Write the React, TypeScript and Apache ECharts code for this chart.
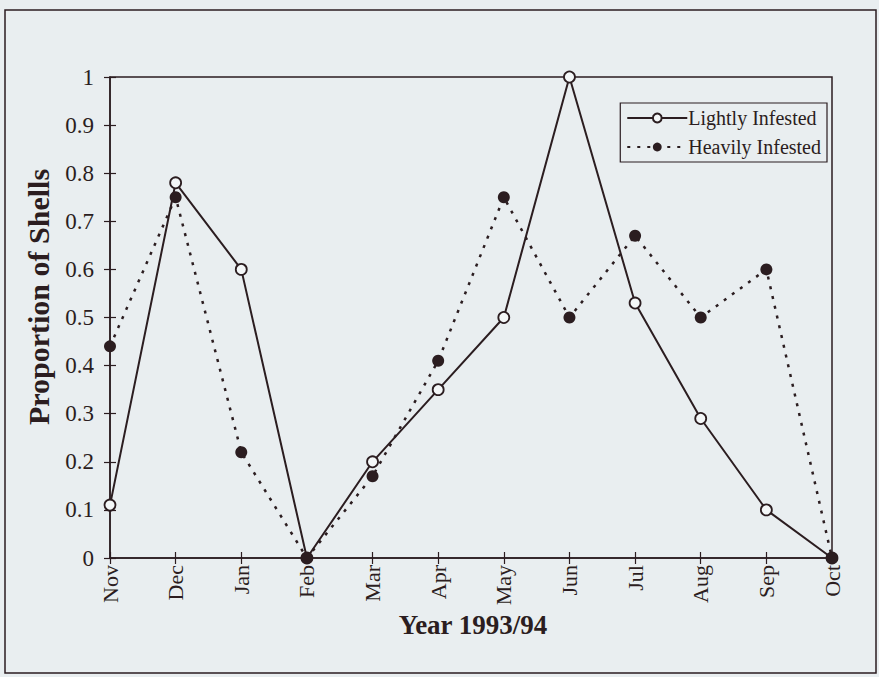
import React, { useEffect, useRef } from "react";
import * as echarts from "echarts";

const months = ["Nov", "Dec", "Jan", "Feb", "Mar", "Apr", "May", "Jun", "Jul", "Aug", "Sep", "Oct"];
const lightly = [0.11, 0.78, 0.6, 0, 0.2, 0.35, 0.5, 1.0, 0.53, 0.29, 0.1, 0];
const heavily = [0.44, 0.75, 0.22, 0, 0.17, 0.41, 0.75, 0.5, 0.67, 0.5, 0.6, 0];
const seriesNames = ["Lightly Infested", "Heavily Infested"];
const xTitle = "Year 1993/94";
const yTitle = "Proportion of Shells";

const INK = "#2b1d20";
const BG = "#e9eef0";
const FONT = "'Liberation Serif', 'DejaVu Serif', serif";

export default function App() {
  const ref = useRef<HTMLDivElement>(null);
  useEffect(() => {
    if (!ref.current) return;
    const chart = echarts.init(ref.current, undefined, { renderer: "svg" });
    const tickCommon = { lineStyle: { color: INK, width: 1.2 }, length: 6 };
    chart.setOption({
      animation: false,
      backgroundColor: BG,
      textStyle: { fontFamily: FONT, color: INK },
      grid: {
        left: 110,
        right: 47,
        top: 77,
        bottom: 119,
        show: true,
        borderColor: INK,
        borderWidth: 1.5,
        backgroundColor: "transparent",
      },
      graphic: [
        {
          type: "rect",
          shape: { x: 5, y: 10, width: 871, height: 663 },
          style: { fill: "none", stroke: INK, lineWidth: 1.5 },
          silent: true,
        },
        {
          type: "text",
          x: 38,
          y: 297,
          rotation: Math.PI / 2,
          silent: true,
          style: {
            text: yTitle,
            fontFamily: FONT,
            fontSize: 30,
            fontWeight: "bold",
            fill: INK,
            textAlign: "center",
            textVerticalAlign: "middle",
          },
        },
        {
          type: "text",
          x: 473,
          y: 625,
          silent: true,
          style: {
            text: xTitle,
            fontFamily: FONT,
            fontSize: 27,
            fontWeight: "bold",
            fill: INK,
            textAlign: "center",
            textVerticalAlign: "middle",
          },
        },
      ],
      legend: {
        orient: "vertical",
        right: 52,
        top: 103,
        itemWidth: 60,
        itemHeight: 11,
        itemGap: 9,
        padding: [5, 6, 5, 6],
        borderColor: INK,
        borderWidth: 1.2,
        backgroundColor: BG,
        textStyle: { fontFamily: FONT, fontSize: 20, color: INK, padding: [0, 0, 0, -4] },
        data: seriesNames,
      },
      xAxis: [
        {
          type: "category",
          data: months,
          boundaryGap: false,
          position: "bottom",
          axisLine: { lineStyle: { color: INK, width: 1.5 } },
          axisTick: { ...tickCommon, inside: false },
          axisLabel: { rotate: 90, fontFamily: FONT, fontSize: 22, color: INK, margin: 7 },
          splitLine: { show: false },
        },
        {
          type: "category",
          data: months,
          boundaryGap: false,
          position: "bottom",
          axisLine: { show: false },
          axisTick: { ...tickCommon, inside: true },
          axisLabel: { show: false },
          splitLine: { show: false },
        },
      ],
      yAxis: [
        {
          type: "value",
          min: 0,
          max: 1,
          interval: 0.1,
          position: "left",
          axisLine: { show: true, lineStyle: { color: INK, width: 1.5 } },
          axisTick: { show: true, ...tickCommon, inside: false },
          axisLabel: { fontFamily: FONT, fontSize: 23, color: INK, margin: 16 },
          splitLine: { show: false },
        },
        {
          type: "value",
          min: 0,
          max: 1,
          interval: 0.1,
          position: "left",
          axisLine: { show: false },
          axisTick: { show: true, ...tickCommon, inside: true },
          axisLabel: { show: false },
          splitLine: { show: false },
        },
      ],
      series: [
        {
          name: seriesNames[0],
          type: "line",
          data: lightly,
          symbol: "circle",
          symbolSize: 11,
          z: 2,
          lineStyle: { color: INK, width: 2 },
          itemStyle: { color: "#f4f7f8", borderColor: INK, borderWidth: 1.8 },
        },
        {
          name: seriesNames[1],
          type: "line",
          data: heavily,
          symbol: "circle",
          symbolSize: 12,
          z: 3,
          lineStyle: { color: INK, width: 2.5, type: [3, 7] },
          itemStyle: { color: INK },
        },
      ],
    });
    return () => chart.dispose();
  }, []);
  return (
    <div
      ref={ref}
      style={{ position: "absolute", left: 0, top: 0, width: 879, height: 677 }}
    />
  );
}
